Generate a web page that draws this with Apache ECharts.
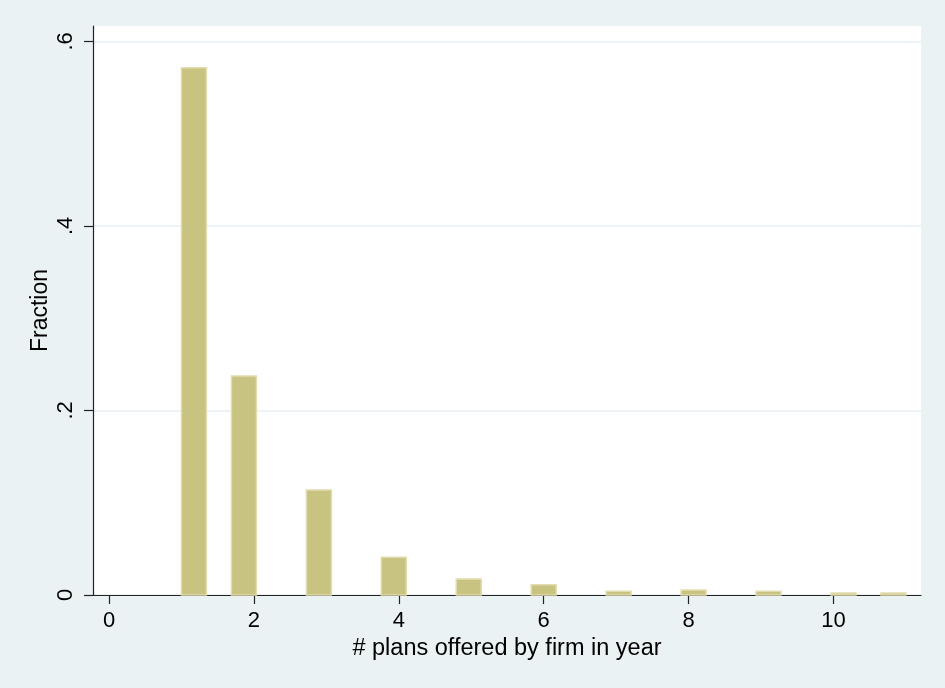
<!DOCTYPE html>
<html>
<head>
<meta charset="utf-8">
<script src="https://cdn.jsdelivr.net/npm/echarts@6/dist/echarts.min.js"></script>
<style>
  html, body { margin: 0; padding: 0; background: #eaf2f3; }
  #chart { width: 945px; height: 688px; }
</style>
</head>
<body>
<div id="chart"></div>
<script>
// histogram bins (centres on the x scale) and the fraction in each
const binCenters = [1.172, 1.862, 2.897, 3.931, 4.966, 6.0, 7.034, 8.069, 9.103, 10.138, 10.828]
const fractions = [0.5714, 0.2373, 0.1138, 0.0409, 0.0173, 0.0112, 0.004, 0.0054, 0.004, 0.0022, 0.0022]
const binWidth = 0.345
const xTicks = [0, 2, 4, 6, 8, 10]
const yTicks = [0, 0.2, 0.4, 0.6]

const barData = binCenters.map((c, i) => [c - binWidth / 2, c + binWidth / 2, fractions[i]])

const chart = echarts.init(document.getElementById('chart'))
const font = '"Liberation Sans", Arial, Helvetica, sans-serif'

const option = {
  backgroundColor: '#eaf2f3',
  animation: false,
  grid: {
    left: 93,
    top: 26,
    right: 24,
    bottom: 93,
    show: true,
    backgroundColor: '#ffffff',
    borderWidth: 0
  },
  xAxis: {
    type: 'value',
    min: -0.221,
    max: 11.208,
    name: '# plans offered by firm in year',
    nameLocation: 'middle',
    nameGap: 41,
    nameTextStyle: { fontFamily: font, fontSize: 23.5, color: '#000' },
    axisLine: { show: true, onZero: false, lineStyle: { color: '#222', width: 1.2 } },
    axisTick: { show: true, length: 9, customValues: xTicks, lineStyle: { color: '#222', width: 1.2 } },
    axisLabel: { customValues: xTicks, margin: 15, fontFamily: font, fontSize: 22, color: '#000' },
    splitLine: { show: false }
  },
  yAxis: {
    type: 'value',
    min: 0,
    max: 0.6166,
    interval: 0.2,
    name: 'Fraction',
    nameLocation: 'middle',
    nameGap: 41,
    nameMoveOverlap: false,
    nameRotate: 90,
    nameTextStyle: { fontFamily: font, fontSize: 23, color: '#000' },
    axisLine: { show: true, onZero: false, lineStyle: { color: '#222', width: 1.2 } },
    axisTick: { show: true, length: 9, customValues: yTicks, lineStyle: { color: '#222', width: 1.2 } },
    axisLabel: {
      customValues: yTicks,
      rotate: 90,
      margin: 16,
      fontFamily: font,
      fontSize: 22,
      color: '#000',
      formatter: v => (v === 0 ? '0' : String(v).replace(/^0/, ''))
    },
    splitLine: { show: true, lineStyle: { color: '#e6eef2', width: 1.5 } }
  },
  series: [{
    type: 'custom',
    data: barData,
    renderItem: (params, api) => {
      const p0 = api.coord([api.value(0), api.value(2)])
      const p1 = api.coord([api.value(1), 0])
      return {
        type: 'rect',
        shape: { x: p0[0], y: p0[1], width: p1[0] - p0[0], height: p1[1] - p0[1] },
        style: { fill: '#c9c381', stroke: '#e2ddb0', lineWidth: 1.5 }
      }
    }
  }]
}

chart.setOption(option)
</script>
</body>
</html>
